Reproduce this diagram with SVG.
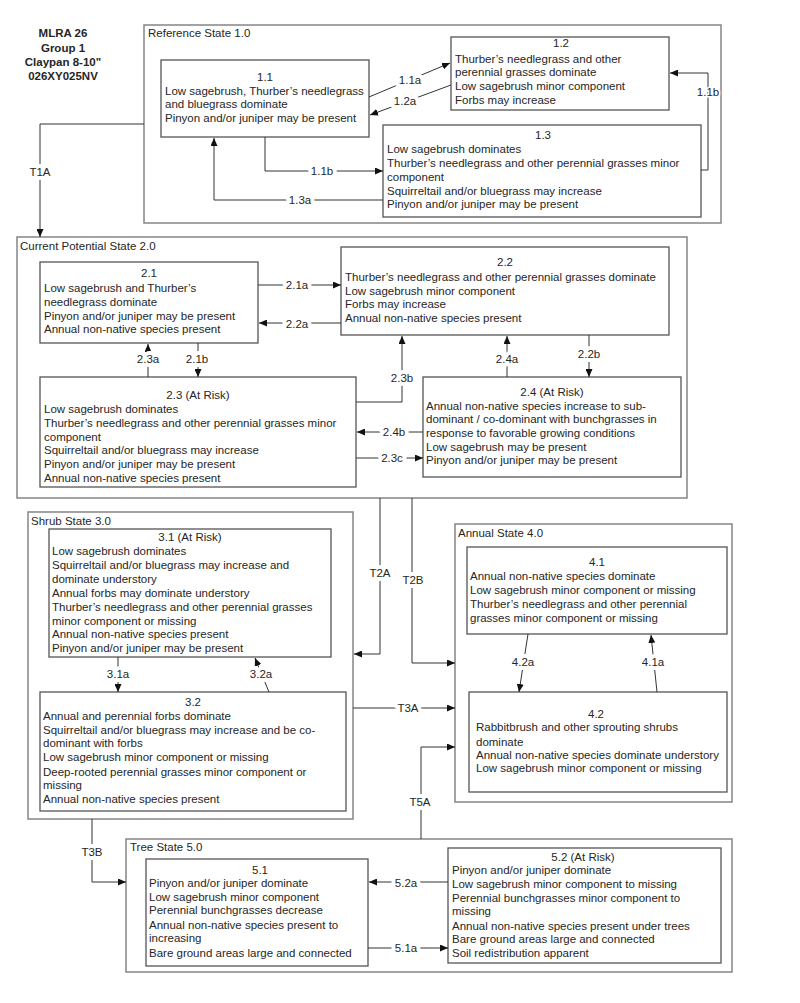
<svg xmlns="http://www.w3.org/2000/svg" width="800" height="1003" viewBox="0 0 800 1003">
<style>
text{font-family:"Liberation Sans",Arial,sans-serif;font-size:11.5px;fill:#262626}
.hdr{font-weight:bold;text-anchor:middle}
.state{fill:none;stroke:#858585;stroke-width:1.5}
.node{fill:#fff;stroke:#555;stroke-width:1.3}
.mid{text-anchor:middle}
.c{fill:none;stroke:#333;stroke-width:1}
.lbl{text-anchor:middle;paint-order:stroke;stroke:#fff;stroke-width:8px;stroke-linejoin:round}
.thin{stroke-width:3px}
</style>
<defs>
<marker id="ah" markerWidth="8" markerHeight="7" refX="8" refY="3.5" orient="auto" markerUnits="userSpaceOnUse">
<path d="M0,0 L8,3.5 L0,7 Z" fill="#111"/>
</marker>
</defs>
<rect width="800" height="1003" fill="#fff"/>
<g id="header">
<text class="hdr" x="63" y="37">MLRA 26</text>
<text class="hdr" x="63" y="52">Group 1</text>
<text class="hdr" x="63" y="66">Claypan 8-10"</text>
<text class="hdr" x="63" y="80">026XY025NV</text>
</g>
<g id="state1"><rect class="state" x="144" y="25" width="577" height="198"/><text x="148" y="37">Reference State 1.0</text></g>
<g id="state2"><rect class="state" x="17" y="237" width="670" height="261"/><text x="20" y="250">Current Potential State 2.0</text></g>
<g id="state3"><rect class="state" x="28" y="512" width="325" height="307"/><text x="31" y="525">Shrub State 3.0</text></g>
<g id="state4"><rect class="state" x="455" y="524" width="277" height="278"/><text x="458" y="537">Annual State 4.0</text></g>
<g id="state5"><rect class="state" x="126" y="839" width="606" height="133"/><text x="130" y="851">Tree State 5.0</text></g>

<g id="n11"><rect class="node" x="161" y="60" width="208" height="77"/>
<text class="mid" x="265" y="81">1.1</text>
<text x="165" y="95">Low sagebrush, Thurber’s needlegrass</text>
<text x="165" y="108">and bluegrass dominate</text>
<text x="165" y="122">Pinyon and/or juniper may be present</text></g>
<g id="n12"><rect class="node" x="451" y="37" width="218" height="73"/>
<text class="mid" x="561" y="47">1.2</text>
<text x="455" y="63">Thurber’s needlegrass and other</text>
<text x="455" y="76">perennial grasses dominate</text>
<text x="455" y="90">Low sagebrush minor component</text>
<text x="455" y="104">Forbs may increase</text></g>
<g id="n13"><rect class="node" x="383" y="125" width="318" height="92"/>
<text class="mid" x="543" y="139">1.3</text>
<text x="387" y="153">Low sagebrush dominates</text>
<text x="387" y="167">Thurber’s needlegrass and other perennial grasses minor</text>
<text x="387" y="181">component</text>
<text x="387" y="195">Squirreltail and/or bluegrass may increase</text>
<text x="387" y="208">Pinyon and/or juniper may be present</text></g>

<g id="n21"><rect class="node" x="40" y="262" width="218" height="81"/>
<text class="mid" x="149" y="277">2.1</text>
<text x="44" y="292">Low sagebrush and Thurber’s</text>
<text x="44" y="306">needlegrass dominate</text>
<text x="44" y="320">Pinyon and/or juniper may be present</text>
<text x="44" y="333">Annual non-native species present</text></g>
<g id="n22"><rect class="node" x="341" y="247" width="328" height="88"/>
<text class="mid" x="505" y="266">2.2</text>
<text x="345" y="281">Thurber’s needlegrass and other perennial grasses dominate</text>
<text x="345" y="295">Low sagebrush minor component</text>
<text x="345" y="308">Forbs may increase</text>
<text x="345" y="322">Annual non-native species present</text></g>
<g id="n23"><rect class="node" x="40" y="377" width="316" height="110"/>
<text class="mid" x="198" y="399">2.3 (At Risk)</text>
<text x="44" y="413">Low sagebrush dominates</text>
<text x="44" y="427">Thurber’s needlegrass and other perennial grasses minor</text>
<text x="44" y="441">component</text>
<text x="44" y="454">Squirreltail and/or bluegrass may increase</text>
<text x="44" y="468">Pinyon and/or juniper may be present</text>
<text x="44" y="482">Annual non-native species present</text></g>
<g id="n24"><rect class="node" x="423" y="377" width="258" height="100"/>
<text class="mid" x="552" y="396">2.4 (At Risk)</text>
<text x="426" y="410">Annual non-native species increase to sub-</text>
<text x="426" y="423">dominant / co-dominant with bunchgrasses in</text>
<text x="426" y="437">response to favorable growing conditions</text>
<text x="426" y="451">Low sagebrush may be present</text>
<text x="426" y="464">Pinyon and/or juniper may be present</text></g>

<g id="n31"><rect class="node" x="49" y="529" width="282" height="128"/>
<text class="mid" x="190" y="541">3.1 (At Risk)</text>
<text x="52" y="555">Low sagebrush dominates</text>
<text x="52" y="569">Squirreltail and/or bluegrass may increase and</text>
<text x="52" y="583">dominate understory</text>
<text x="52" y="597">Annual forbs may dominate understory</text>
<text x="52" y="611">Thurber’s needlegrass and other perennial grasses</text>
<text x="52" y="625">minor component or missing</text>
<text x="52" y="638">Annual non-native species present</text>
<text x="52" y="652">Pinyon and/or juniper may be present</text></g>
<g id="n32"><rect class="node" x="40" y="692" width="306" height="119"/>
<text class="mid" x="193" y="706">3.2</text>
<text x="43" y="720">Annual and perennial forbs dominate</text>
<text x="43" y="734">Squirreltail and/or bluegrass may increase and be co-</text>
<text x="43" y="747">dominant with forbs</text>
<text x="43" y="761">Low sagebrush minor component or missing</text>
<text x="43" y="776">Deep-rooted perennial grasses minor component or</text>
<text x="43" y="789">missing</text>
<text x="43" y="803">Annual non-native species present</text></g>

<g id="n41"><rect class="node" x="467" y="547" width="260" height="87"/>
<text class="mid" x="597" y="566">4.1</text>
<text x="470" y="580">Annual non-native species dominate</text>
<text x="470" y="594">Low sagebrush minor component or missing</text>
<text x="470" y="608">Thurber’s needlegrass and other perennial</text>
<text x="470" y="622">grasses minor component or missing</text></g>
<g id="n42"><rect class="node" x="469" y="692" width="258" height="100"/>
<text class="mid" x="596" y="718">4.2</text>
<text x="476" y="731">Rabbitbrush and other sprouting shrubs</text>
<text x="476" y="746">dominate</text>
<text x="476" y="759">Annual non-native species dominate understory</text>
<text x="476" y="772">Low sagebrush minor component or missing</text></g>

<g id="n51"><rect class="node" x="146" y="859" width="222" height="107"/>
<text class="mid" x="260" y="874">5.1</text>
<text x="149" y="887">Pinyon and/or juniper dominate</text>
<text x="149" y="901">Low sagebrush minor component</text>
<text x="149" y="914">Perennial bunchgrasses decrease</text>
<text x="149" y="929">Annual non-native species present to</text>
<text x="149" y="942">increasing</text>
<text x="149" y="957">Bare ground areas large and connected</text></g>
<g id="n52"><rect class="node" x="448" y="848" width="273" height="115"/>
<text class="mid" x="583" y="861">5.2 (At Risk)</text>
<text x="452" y="874">Pinyon and/or juniper dominate</text>
<text x="452" y="888">Low sagebrush minor component to missing</text>
<text x="452" y="902">Perennial bunchgrasses minor component to</text>
<text x="452" y="915">missing</text>
<text x="452" y="930">Annual non-native species present under trees</text>
<text x="452" y="943">Bare ground areas large and connected</text>
<text x="452" y="957">Soil redistribution apparent</text></g>

<g id="connectors">
<path class="c" marker-end="url(#ah)" d="M369,97 L450,63"/>
<path class="c" marker-end="url(#ah)" d="M451,85 L370,115"/>
<path class="c" marker-end="url(#ah)" d="M265,137 V171 H383"/>
<path class="c" marker-end="url(#ah)" d="M383,200 H214 V138"/>
<path class="c" marker-end="url(#ah)" d="M701,170 H708 V73 H670"/>
<path class="c" marker-end="url(#ah)" d="M144,124 H40 V237"/>
<path class="c" marker-end="url(#ah)" d="M258,285 H341"/>
<path class="c" marker-end="url(#ah)" d="M341,323 H259"/>
<path class="c" marker-end="url(#ah)" d="M148,377 V344"/>
<path class="c" marker-end="url(#ah)" d="M198,343 V377"/>
<path class="c" marker-end="url(#ah)" d="M356,402 H402 V336"/>
<path class="c" marker-end="url(#ah)" d="M507,377 V336"/>
<path class="c" marker-end="url(#ah)" d="M589,335 V377"/>
<path class="c" marker-end="url(#ah)" d="M423,432 H357"/>
<path class="c" marker-end="url(#ah)" d="M356,458 H423"/>
<path class="c" marker-end="url(#ah)" d="M380,498 V654 H354"/>
<path class="c" marker-end="url(#ah)" d="M412,498 V663 H455"/>
<path class="c" marker-end="url(#ah)" d="M118,657 V692"/>
<path class="c" marker-end="url(#ah)" d="M269,692 L255,658"/>
<path class="c" marker-end="url(#ah)" d="M353,708 H455"/>
<path class="c" marker-end="url(#ah)" d="M421,839 V747 H455"/>
<path class="c" marker-end="url(#ah)" d="M528,634 L519,692"/>
<path class="c" marker-end="url(#ah)" d="M657,692 L651,635"/>
<path class="c" marker-end="url(#ah)" d="M92,819 V882 H126"/>
<path class="c" marker-end="url(#ah)" d="M448,882 H369"/>
<path class="c" marker-end="url(#ah)" d="M368,948 H448"/>
<text class="lbl" x="410" y="84">1.1a</text>
<text class="lbl" x="405" y="105">1.2a</text>
<text class="lbl" x="322" y="175">1.1b</text>
<text class="lbl" x="300" y="204">1.3a</text>
<text class="lbl thin" x="708" y="96">1.1b</text>
<text class="lbl" x="40" y="176">T1A</text>
<text class="lbl" x="297" y="289">2.1a</text>
<text class="lbl" x="297" y="328">2.2a</text>
<text class="lbl" x="148" y="363">2.3a</text>
<text class="lbl" x="197" y="363">2.1b</text>
<text class="lbl" x="402" y="382">2.3b</text>
<text class="lbl" x="507" y="363">2.4a</text>
<text class="lbl" x="589" y="358">2.2b</text>
<text class="lbl" x="394" y="436">2.4b</text>
<text class="lbl" x="392" y="462">2.3c</text>
<text class="lbl" x="380" y="577">T2A</text>
<text class="lbl" x="413" y="584">T2B</text>
<text class="lbl" x="118" y="678">3.1a</text>
<text class="lbl" x="261" y="678">3.2a</text>
<text class="lbl" x="408" y="712">T3A</text>
<text class="lbl" x="420" y="806">T5A</text>
<text class="lbl" x="523" y="666">4.2a</text>
<text class="lbl" x="653" y="666">4.1a</text>
<text class="lbl" x="92" y="856">T3B</text>
<text class="lbl" x="406" y="887">5.2a</text>
<text class="lbl" x="406" y="952">5.1a</text>
</g>
</svg>
